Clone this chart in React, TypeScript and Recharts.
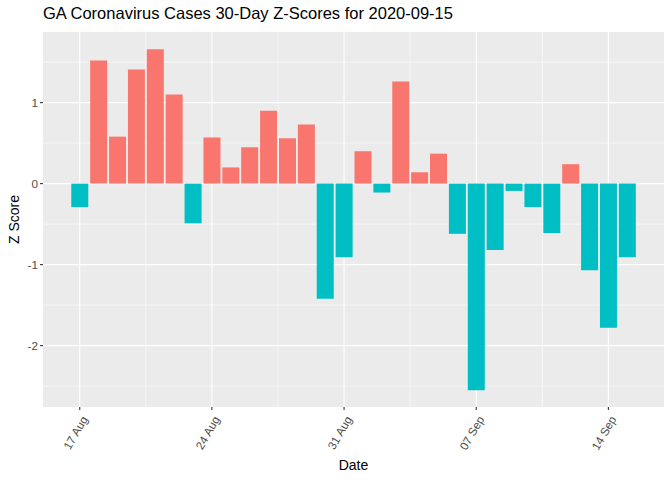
import { Bar, BarChart, CartesianGrid, Cell, XAxis, YAxis, Label } from "recharts";

// 30 days, 17 Aug .. 15 Sep 2020
const dates = [
  "2020-08-17", "2020-08-18", "2020-08-19", "2020-08-20", "2020-08-21",
  "2020-08-22", "2020-08-23", "2020-08-24", "2020-08-25", "2020-08-26",
  "2020-08-27", "2020-08-28", "2020-08-29", "2020-08-30", "2020-08-31",
  "2020-09-01", "2020-09-02", "2020-09-03", "2020-09-04", "2020-09-05",
  "2020-09-06", "2020-09-07", "2020-09-08", "2020-09-09", "2020-09-10",
  "2020-09-11", "2020-09-12", "2020-09-13", "2020-09-14", "2020-09-15",
];
const zScores = [
  -0.29, 1.52, 0.58, 1.41, 1.66, 1.1, -0.49, 0.57, 0.2, 0.45,
  0.9, 0.56, 0.73, -1.42, -0.91, 0.4, -0.11, 1.26, 0.14, 0.37,
  -0.62, -2.55, -0.82, -0.09, -0.29, -0.61, 0.24, -1.07, -1.78, -0.91,
];
const xTicks = [0, 7, 14, 21, 28];
const xTickLabels = ["17 Aug", "24 Aug", "31 Aug", "07 Sep", "14 Sep"];
const xMinor = [3.5, 10.5, 17.5, 24.5];
const yTicks = [-2, -1, 0, 1];
const yMinor = [-2.5, -1.5, -0.5, 0.5, 1.5];

const data = dates.map((d, i) => ({ day: i, date: d, z: zScores[i] }));

const font = "'Liberation Sans', Arial, sans-serif";
const POS = "#F8766D";
const NEG = "#00BFC4";

const XTick = ({ x, y, payload }: any) => {
  const idx = xTicks.indexOf(payload.value);
  return (
    <g transform={`translate(${x + 5},${y + 7})`}>
      <text textAnchor="end" transform="rotate(-60)" fill="#4D4D4D" fontSize={11.7} fontFamily={font} dy={4}>
        {xTickLabels[idx]}
      </text>
    </g>
  );
};

export default function App() {
  return (
    <div style={{ position: "absolute", left: 0, top: 0, width: 672, height: 480, background: "#fff", fontFamily: font }}>
      <div style={{ position: "absolute", left: 43, top: 4, fontSize: 16.5, color: "#000", whiteSpace: "nowrap" }}>
        GA Coronavirus Cases 30-Day Z-Scores for 2020-09-15
      </div>
      <BarChart
        width={672}
        height={480}
        data={data}
        margin={{ top: 32, right: 8, bottom: 0, left: 0 }}
      >
        <CartesianGrid
          fill="#EBEBEB"
          stroke="#FFFFFF"
          strokeWidth={0.55}
          horizontalValues={yMinor}
          verticalValues={xMinor}
          syncWithTicks={false}
        />
        <CartesianGrid
          stroke="#FFFFFF"
          strokeWidth={1.1}
          horizontalValues={yTicks}
          verticalValues={xTicks}
          syncWithTicks={false}
        />
        <XAxis
          dataKey="day"
          type="number"
          domain={[-1.945, 30.945]}
          allowDataOverflow
          ticks={xTicks}
          axisLine={false}
          tickLine={{ stroke: "#333333", strokeWidth: 1.1 }}
          tickSize={3}
          tickMargin={0}
          height={73}
          tick={<XTick />}
          interval={0}
        >
          <Label value="Date" position="insideBottom" offset={10} fill="#000" fontSize={14} fontFamily={font} />
        </XAxis>
        <YAxis
          type="number"
          domain={[-2.758, 1.872]}
          allowDataOverflow
          ticks={yTicks}
          axisLine={false}
          tickLine={{ stroke: "#333333", strokeWidth: 1.1 }}
          tickSize={3}
          tickMargin={2}
          width={43}
          tick={{ fill: "#4D4D4D", fontSize: 11.7, fontFamily: font }}
          interval={0}
        >
          <Label value="Z Score" angle={-90} position="insideLeft" offset={14} fill="#000" fontSize={14} fontFamily={font} style={{ textAnchor: "middle" }} />
        </YAxis>
        <Bar dataKey="z" barSize={17} isAnimationActive={false}>
          {data.map((d) => (
            <Cell key={d.date} fill={d.z >= 0 ? POS : NEG} />
          ))}
        </Bar>
      </BarChart>
    </div>
  );
}
